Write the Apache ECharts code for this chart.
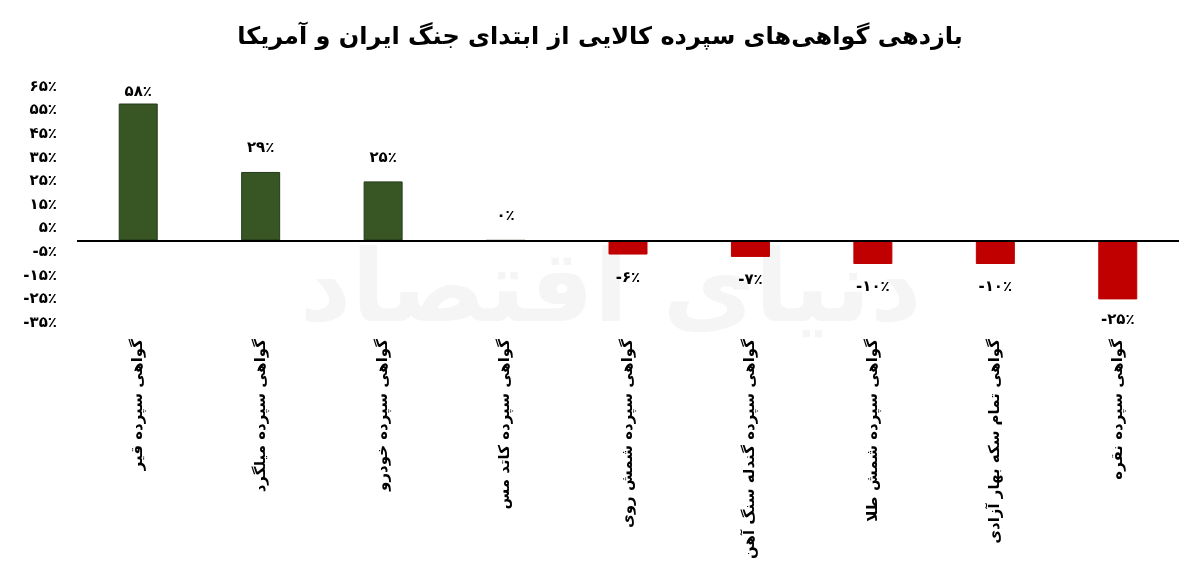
<!DOCTYPE html>
<html>
<head>
<meta charset="utf-8">
<script src="https://cdn.jsdelivr.net/npm/echarts@6/dist/echarts.min.js"></script>
<style>
  html, body { margin: 0; padding: 0; background: #fff; }
  #chart { width: 1200px; height: 579px; }
</style>
</head>
<body>
<div id="chart"></div>
<script>
// داده‌ها
var titleText = 'بازدهی گواهی‌های سپرده کالایی از ابتدای جنگ ایران و آمریکا';
var categories = [
  'گواهی سپرده قیر',
  'گواهی سپرده میلگرد',
  'گواهی سپرده خودرو',
  'گواهی سپرده کاتد مس',
  'گواهی سپرده شمش روی',
  'گواهی سپرده گندله سنگ آهن',
  'گواهی سپرده شمش طلا',
  'گواهی تمام سکه بهار آزادی',
  'گواهی سپرده نقره'
];
var returns = [58, 29, 25, 0, -6, -7, -10, -10, -25];
var yMin = -35, yMax = 65, yStep = 5;

var FONT = 'DejaVu Sans';
var GREEN = '#375623', RED = '#c00000';

function toFa(n) {
  var s = String(Math.round(n));
  return s.replace(/[0-9]/g, function (d) { return '۰۱۲۳۴۵۶۷۸۹'[+d]; });
}

var myChart = echarts.init(document.getElementById('chart'));

var barData = returns.map(function (v) {
  // برچسب‌ها حدود ۱۶ پیکسل از ستون فاصله دارند، مگر جایی که به بالای نمودار برسد
  var dist = 16;
  if (v > yMax - 10) dist = 4;
  if (v < yMin + 15) dist = 13;
  return {
    value: v,
    itemStyle: { color: v >= 0 ? GREEN : RED, borderColor: v >= 0 ? '#25391a' : RED, borderWidth: 1 },
    label: { position: v >= 0 ? 'top' : 'bottom', distance: dist }
  };
});

var option = {
  backgroundColor: '#fff',
  animation: false,
  title: {
    text: titleText,
    left: 'center',
    top: 21,
    textStyle: { fontFamily: FONT, fontSize: 24, fontWeight: 'bold', color: '#000' }
  },
  graphic: [{
    type: 'text',
    left: 300,
    top: 245,
    z: -1,
    style: {
      text: 'دنیای اقتصاد',
      fontFamily: FONT,
      fontSize: 100,
      fontWeight: 'bold',
      fill: '#f5f5f5'
    }
  }],
  grid: { left: 77, right: 21, top: 87, bottom: 256 },
  xAxis: {
    type: 'category',
    data: categories,
    axisLine: { show: false },
    axisTick: { show: false },
    axisLabel: {
      rotate: 90,
      interval: 0,
      margin: 16,
      fontFamily: FONT,
      fontSize: 15,
      fontWeight: 'bold',
      color: '#000'
    }
  },
  yAxis: {
    type: 'value',
    min: yMin,
    max: yMax,
    interval: yStep,
    splitLine: { show: false },
    axisLine: { show: false },
    axisTick: { show: false },
    axisLabel: {
      margin: 20,
      fontFamily: FONT,
      fontSize: 15,
      fontWeight: 'bold',
      color: '#000',
      formatter: function (v) {
        if (Math.round(v) % 10 === 0) return '';
        return toFa(v) + '٪';
      }
    }
  },
  series: [{
    type: 'bar',
    data: barData,
    barWidth: 39,
    label: {
      show: true,
      fontFamily: FONT,
      fontSize: 15,
      fontWeight: 'bold',
      color: '#000',
      formatter: function (p) { return toFa(p.value) + '٪'; }
    },
    markLine: {
      silent: true,
      symbol: 'none',
      label: { show: false },
      lineStyle: { color: '#000', width: 2, type: 'solid' },
      data: [{ yAxis: 0 }]
    }
  }]
};

myChart.setOption(option);
</script>
</body>
</html>
